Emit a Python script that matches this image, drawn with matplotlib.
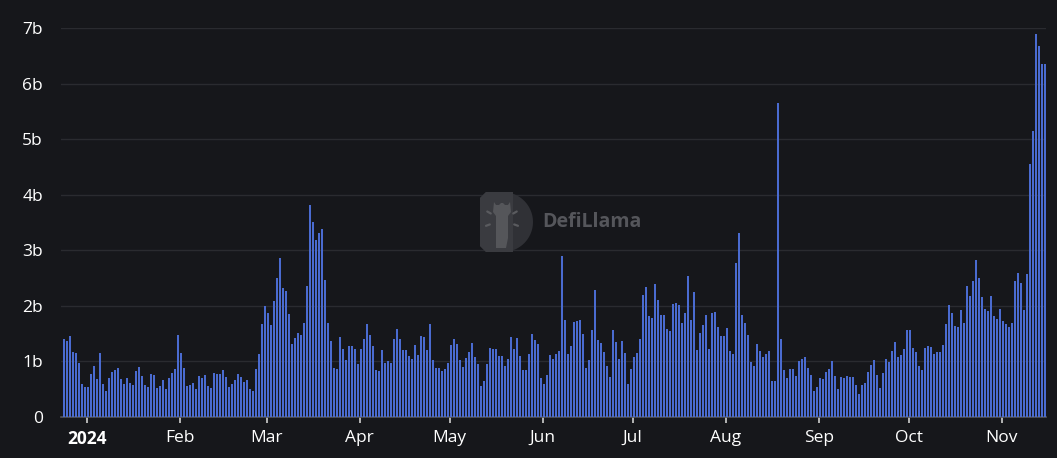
import numpy as np
import pandas as pd
import matplotlib
matplotlib.use("Agg")
import matplotlib.pyplot as plt
from matplotlib.path import Path
from matplotlib.patches import PathPatch, Polygon

# daily volume in billions, first bar = 2023-12-24
dec_2023 = [1.40, 1.36, 1.46, 1.17, 1.15, 0.98, 0.59, 0.54]
jan = [0.54, 0.78, 0.92, 0.68, 1.15, 0.59, 0.47, 0.71, 0.81, 0.84, 0.89, 0.69, 0.59, 0.71, 0.62, 0.58,
       0.83, 0.90, 0.74, 0.57, 0.54, 0.77, 0.75, 0.53, 0.56, 0.66, 0.50, 0.71, 0.80, 0.86, 1.47]
feb = [1.16, 0.88, 0.56, 0.57, 0.62, 0.51, 0.74, 0.71, 0.75, 0.56, 0.53, 0.80, 0.78, 0.78, 0.84, 0.72,
       0.54, 0.60, 0.66, 0.77, 0.72, 0.63, 0.66, 0.51, 0.47, 0.87, 1.14, 1.67, 2.00]
mar = [1.88, 1.65, 2.08, 2.50, 2.86, 2.32, 2.27, 1.86, 1.32, 1.42, 1.52, 1.47, 1.69, 2.36, 3.81, 3.50,
       3.18, 3.31, 3.38, 2.46, 1.69, 1.36, 0.88, 0.86, 1.44, 1.23, 1.02, 1.28, 1.27, 1.23, 0.95]
apr = [1.23, 1.41, 1.67, 1.47, 1.28, 0.85, 0.83, 1.20, 0.98, 1.00, 0.97, 1.41, 1.58, 1.41, 1.20, 1.20,
       1.10, 1.05, 1.29, 1.12, 1.45, 1.44, 1.21, 1.67, 1.02, 0.89, 0.88, 0.82, 0.86, 0.98]
may = [1.30, 1.40, 1.32, 1.02, 0.90, 1.06, 1.17, 1.34, 1.08, 0.95, 0.56, 0.65, 0.96, 1.25, 1.23, 1.22,
       1.09, 1.10, 0.91, 1.05, 1.44, 1.23, 1.43, 1.09, 0.84, 0.84, 1.13, 1.50, 1.38, 1.32, 0.71]
jun = [0.59, 0.76, 1.12, 1.05, 1.13, 1.19, 2.90, 1.74, 1.13, 1.28, 1.71, 1.73, 1.74, 1.50, 0.88, 1.03,
       1.56, 2.29, 1.38, 1.33, 1.17, 0.92, 0.72, 1.57, 1.35, 1.05, 1.37, 1.16, 0.59, 0.86]
jul = [1.08, 1.16, 1.41, 2.20, 2.34, 1.82, 1.78, 2.40, 2.11, 1.84, 1.84, 1.59, 1.54, 2.03, 2.05, 2.01,
       1.69, 1.87, 2.54, 1.74, 2.25, 1.20, 1.51, 1.65, 1.84, 1.22, 1.87, 1.89, 1.62, 1.46, 1.46]
aug = [1.60, 1.19, 1.13, 2.77, 3.31, 1.84, 1.69, 1.48, 0.99, 0.91, 1.32, 1.18, 1.08, 1.13, 1.18, 0.65,
       0.65, 5.65, 1.41, 0.85, 0.71, 0.87, 0.87, 0.74, 1.00, 1.04, 1.08, 0.88, 0.75, 0.46, 0.54]
sep = [0.71, 0.69, 0.81, 0.86, 1.01, 0.74, 0.51, 0.72, 0.71, 0.74, 0.72, 0.72, 0.58, 0.41, 0.58, 0.61,
       0.81, 0.93, 1.02, 0.75, 0.53, 0.80, 1.05, 0.99, 1.19, 1.35, 1.08, 1.12, 1.23, 1.56]
oct_ = [1.56, 1.25, 1.17, 0.92, 0.84, 1.24, 1.28, 1.26, 1.14, 1.17, 1.17, 1.29, 1.68, 2.02, 1.87, 1.64,
        1.62, 1.92, 1.70, 2.35, 2.17, 2.45, 2.83, 2.51, 2.16, 1.94, 1.90, 2.18, 1.82, 1.76, 1.95]
nov = [1.73, 1.68, 1.62, 1.69, 2.45, 2.59, 2.42, 1.93, 2.57, 4.56, 5.15, 6.90, 6.68, 6.35, 6.35]

month_labels = ["2024", "Feb", "Mar", "Apr", "May", "Jun", "Jul", "Aug", "Sep", "Oct", "Nov"]
y_ticks = [0, 1, 2, 3, 4, 5, 6, 7]

values = np.array(dec_2023 + jan + feb + mar + apr + may + jun + jul + aug + sep + oct_ + nov)
# timestamps shown in UTC+8
dates = pd.date_range("2023-12-24 08:00", periods=len(values), freq="D")

bg = "#16171b"
fig = plt.figure(figsize=(10.57, 4.58), dpi=100, facecolor=bg)
ax = fig.add_axes([61 / 1057, 41 / 458, 985 / 1057, 389 / 458], facecolor=bg)

ax.bar(dates, values, width=0.75, color="#4a6bd0", zorder=3)

ax.set_ylim(0, 7)
ax.set_xlim(pd.Timestamp("2023-12-23 10:00"), pd.Timestamp("2024-11-15 19:00"))
ax.set_yticks(y_ticks)
ax.set_yticklabels(["0"] + [f"{t}b" for t in y_ticks[1:]])
ax.grid(axis="y", color="#2a2b30", linewidth=1, zorder=0)

month_starts = pd.date_range("2024-01-01", periods=len(month_labels), freq="MS")
ax.set_xticks(month_starts)
ax.set_xticklabels(month_labels)
ax.get_xticklabels()[0].set_fontweight("bold")

for s in ["top", "right", "left"]:
    ax.spines[s].set_visible(False)
ax.spines["bottom"].set_color("#55565c")
ax.spines["bottom"].set_linewidth(1.2)

ax.tick_params(axis="y", length=0, pad=13, labelsize=12.5, labelcolor="#ffffff")
ax.tick_params(axis="x", length=4, width=1.2, color="#cfcfcf", pad=5, labelsize=12.5,
               labelcolor="#ffffff")
for lab in ax.get_xticklabels() + ax.get_yticklabels():
    lab.set_fontfamily("Open Sans")

# watermark: D-shaped logo with llama, then the name
lax = fig.add_axes([480 / 1057, 206 / 458, 53 / 1057, 60 / 458])
lax.set_xlim(0, 53)
lax.set_ylim(0, 60)
lax.set_aspect("equal")
lax.axis("off")
t = np.linspace(-np.pi / 2, np.pi / 2, 40)
d_outline = [(6, 0), (23, 0)] + [(23 + 30 * np.cos(a), 30 + 30 * np.sin(a)) for a in t] + \
            [(23, 60), (6, 60), (0, 54), (0, 6)]
lax.add_patch(Polygon(d_outline, closed=True, facecolor="#303136", edgecolor="none"))
lax.add_patch(Polygon([(6, 0), (33, 0), (33, 60), (6, 60), (0, 54), (0, 6)], closed=True,
                      facecolor="#3a3b40", edgecolor="none"))
llama = [(16, 4), (16, 36), (13, 40), (14, 50), (16, 47), (19, 47), (21, 49), (23, 49),
         (25, 47), (28, 47), (30, 50), (31, 40), (28, 36), (28, 14), (26, 4)]
lax.add_patch(Polygon(llama, closed=True, facecolor="#55565a", edgecolor="none"))
for ang in [150, 200, 30, -20]:
    r = np.radians(ang)
    lax.plot([22 + 13 * np.cos(r), 22 + 17 * np.cos(r)], [32 + 13 * np.sin(r), 32 + 17 * np.sin(r)],
             color="#5a5b5f", linewidth=1.6, solid_capstyle="round")

ax.text(0.489, 0.501, "DefiLlama", transform=ax.transAxes, fontsize=14, fontweight="bold",
        color="#55565b", va="center", ha="left", family="Open Sans", zorder=1)

fig.savefig("out.png", dpi=100, facecolor=bg)
